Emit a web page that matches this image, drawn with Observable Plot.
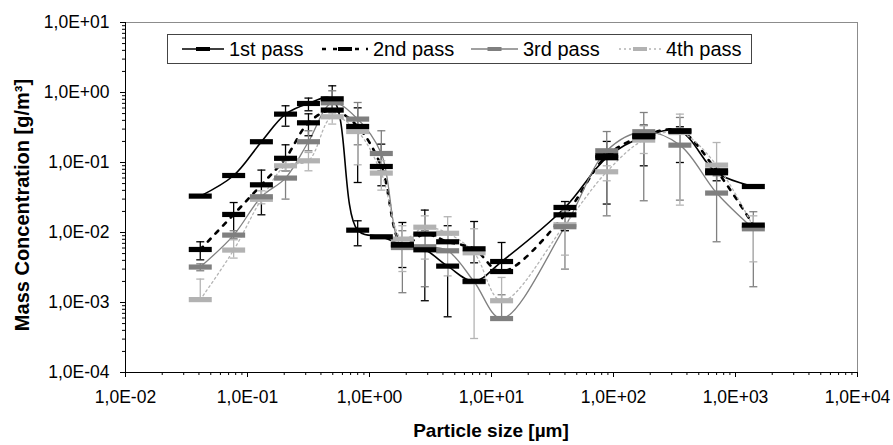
<!DOCTYPE html>
<html><head><meta charset="utf-8">
<script src="https://cdn.jsdelivr.net/npm/d3@7"></script>
<script src="https://cdn.jsdelivr.net/npm/@observablehq/plot@0.6"></script>
<style>
body{margin:0;background:#fff;font-family:"Liberation Sans",Arial,sans-serif;}
#wrap{position:relative;width:893px;height:445px;overflow:hidden;}
.ttl{position:absolute;font-weight:bold;font-size:19px;color:#000;white-space:nowrap;}
</style></head><body><div id="wrap"></div>
<script>
// ---- data ----
const sizes = [0.041, 0.077, 0.13, 0.205, 0.316, 0.495, 0.80, 1.25, 1.86, 2.84, 4.37, 7.2, 12.1, 40, 88, 177, 350, 700, 1400];

const pass1   = [0.0331, 0.0652, 0.198, 0.491, 0.697, 0.813, 0.0108, 0.00868, 0.00667, 0.00566, 0.00331, 0.00201, 0.00385, 0.0228, 0.117, 0.233, 0.279, 0.0713, 0.0454];
const pass1Hi = [null, null, null, 0.646, 0.832, 1.246, 0.0147, null, null, null, null, null, 0.0072, 0.0277, null, null, null, null, null];
const pass1Lo = [null, null, null, 0.33, 0.548, 0.585, 0.00646, null, null, null, 0.000625, null, 0.00284, 0.0173, null, null, null, null, null];

const pass2   = [0.00572, 0.0181, 0.048, 0.1148, 0.369, 0.561, 0.327, 0.0877, 0.00667, 0.00949, 0.00737, 0.00585, 0.00277, 0.0179, 0.1247, 0.241, 0.284, 0.0761, 0.01276];
const pass2Hi = [0.00737, 0.0268, 0.0779, 0.179, 0.496, null, 0.604, 0.183, 0.0139, 0.0209, 0.0125, 0.01436, null, 0.0241, 0.2, 0.342, 0.324, 0.0897, null];
const pass2Lo = [0.00407, 0.00927, 0.0179, 0.0761, 0.241, null, 0.0518, 0.0465, 0.00316, 0.00106, null, 0.00369, null, 0.0106, 0.0255, 0.0897, 0.1, 0.0548, null];

const pass3   = [0.00321, 0.00918, 0.0324, 0.0599, 0.198, 0.713, 0.417, 0.1345, 0.0061, 0.00625, 0.00548, 0.00198, 0.00059, 0.0121, 0.147, 0.275, 0.177, 0.0366, 0.0113];
const pass3Hi = [0.00357, 0.0106, null, null, 0.284, 1.058, 0.72, 0.284, 0.0106, 0.0106, null, null, 0.00129, 0.0204, 0.277, 0.518, 0.44, 0.0646, 0.0198];
const pass3Lo = [0.00284, 0.00813, null, 0.030, 0.147, 0.513, 0.179, 0.0761, 0.00138, 0.00168, null, null, null, 0.003, 0.0173, 0.0284, 0.029, 0.00737, 0.00168];

const pass4   = [0.0011, 0.00561, 0.0298, 0.0897, 0.1057, 0.45, 0.277, 0.0706, 0.00805, 0.0119, 0.00975, 0.00513, 0.00106, 0.0129, 0.0737, 0.209, 0.268, 0.0918, 0.0121];
const pass4Hi = [0.00216, 0.00787, 0.0394, 0.106, 0.139, 0.548, 0.334, 0.106, 0.0125, 0.0173, 0.0168, 0.0113, 0.00228, 0.0173, 0.0897, 0.334, 0.491, 0.193, 0.0173];
const pass4Lo = [null, 0.00431, 0.0257, 0.0761, 0.0761, 0.354, 0.0927, 0.0403, 0.00277, 0.00417, 0.0024, 0.000306, null, 0.00475, 0.0548, 0.1345, 0.0246, null, 0.00381];

const seriesNames = ["1st pass", "2nd pass", "3rd pass", "4th pass"];
const xTicks = [0.01, 0.1, 1, 10, 100, 1000, 10000];
const xTickLabels = ["1,0E-02", "1,0E-01", "1,0E+00", "1,0E+01", "1,0E+02", "1,0E+03", "1,0E+04"];
const yTicks = [0.0001, 0.001, 0.01, 0.1, 1, 10];
const yTickLabels = ["1,0E-04", "1,0E-03", "1,0E-02", "1,0E-01", "1,0E+00", "1,0E+01"];
const xLabel = "Particle size [µm]";
const yLabel = "Mass Concentration [g/m³]";

// ---- styles ----
const styles = [
  {color: "#000000", bar: "#000000", width: 1.6, dash: null},
  {color: "#000000", bar: "#000000", width: 2.6, dash: "4,7"},
  {color: "#808080", bar: "#7f7f7f", width: 1.3, dash: null},
  {color: "#b4b4b4", bar: "#b2b2b2", width: 1.3, dash: "2,3"}
];
const values = [pass1, pass2, pass3, pass4];
const his = [pass1Hi, pass2Hi, pass3Hi, pass4Hi];
const los = [pass1Lo, pass2Lo, pass3Lo, pass4Lo];

const rows = values.map(v => sizes.map((x, i) => ({x, y: v[i]})));
const errs = values.map((v, s) => {
  const out = [];
  sizes.forEach((x, i) => {
    if (his[s][i] != null) out.push({x, y: v[i], end: his[s][i]});
    if (los[s][i] != null) out.push({x, y: v[i], end: los[s][i]});
  });
  return out;
});

const minor = (lo, hi) => { const r = []; for (let e = lo; e < hi; e++) for (let k = 2; k <= 9; k++) r.push(k * Math.pow(10, e)); return r; };
const xMinor = minor(-2, 4);
const yMinor = minor(-4, 1);

const barSymbol = {draw(ctx) { ctx.rect(-11.5, -2.6, 23, 5.2); }};
const capSymbol = {draw(ctx) { ctx.moveTo(-4, 0); ctx.lineTo(4, 0); }};

const marks = [
  Plot.ruleY([10], {stroke: "#8c8c8c"}),
  Plot.ruleX([10000], {stroke: "#8c8c8c"}),
  Plot.axisX(xMinor, {tickSize: 3, tickFormat: () => "", label: null}),
  Plot.axisY(yMinor, {tickSize: 3, tickFormat: () => "", label: null}),
  Plot.axisX(xTicks, {tickSize: 5, tickPadding: 13, tickFormat: d => xTickLabels[xTicks.indexOf(d)], label: null, fontSize: 17.5}),
  Plot.axisY(yTicks, {tickSize: 5, tickPadding: 11, tickFormat: d => yTickLabels[yTicks.indexOf(d)], label: null, fontSize: 17.5}),
  Plot.ruleX([0.01], {stroke: "#000"}),
  Plot.ruleY([0.0001], {stroke: "#000"})
];
rows.forEach((r, s) => {
  marks.push(Plot.line(r, {x: "x", y: "y", curve: "catmull-rom", stroke: styles[s].color, strokeWidth: styles[s].width, strokeDasharray: styles[s].dash}));
});
errs.forEach((e, s) => {
  marks.push(Plot.ruleX(e, {x: "x", y1: "y", y2: "end", stroke: styles[s].color, strokeWidth: 1.3}));
  marks.push(Plot.dot(e, {x: "x", y: "end", symbol: capSymbol, stroke: styles[s].color, fill: "none", strokeWidth: 1.3, r: 4}));
});
[3, 2, 1, 0].forEach(s => {
  marks.push(Plot.dot(rows[s], {x: "x", y: "y", symbol: barSymbol, fill: styles[s].bar, stroke: "none", r: 5}));
});

const chart = Plot.plot({
  width: 893, height: 445,
  marginLeft: 125, marginRight: 36, marginTop: 22, marginBottom: 73,
  x: {type: "log", domain: [0.01, 10000]},
  y: {type: "log", domain: [0.0001, 10]},
  style: {fontFamily: "'Liberation Sans', Arial, sans-serif", fontSize: "17px", color: "#000", background: "#fff"},
  marks
});
const wrap = document.getElementById("wrap");
wrap.appendChild(chart);

// axis titles
const yt = document.createElement("div");
yt.className = "ttl"; yt.textContent = yLabel;
yt.style.fontSize = "20px";
yt.style.left = "22px"; yt.style.top = "205px";
yt.style.transform = "translate(-50%,-50%) rotate(-90deg)";
wrap.appendChild(yt);
const xt = document.createElement("div");
xt.className = "ttl"; xt.textContent = xLabel;
xt.style.left = "491px"; xt.style.top = "431px";
xt.style.transform = "translate(-50%,-50%)";
wrap.appendChild(xt);

// legend
const lg = d3.select(wrap).append("svg")
  .attr("width", 586).attr("height", 31)
  .style("position", "absolute").style("left", "167px").style("top", "34px");
lg.append("rect").attr("x", 0.5).attr("y", 0.5).attr("width", 584).attr("height", 29)
  .attr("fill", "#fff").attr("stroke", "#444");
const sampleX = [[15, 57], [155, 201], [304, 351], [452, 494]];
seriesNames.forEach((name, s) => {
  const [a, b] = sampleX[s];
  lg.append("line").attr("x1", a).attr("x2", b).attr("y1", 15).attr("y2", 15)
    .attr("stroke", styles[s].color).attr("stroke-width", styles[s].width)
    .attr("stroke-dasharray", styles[s].dash);
  lg.append("rect").attr("x", (a + b) / 2 - 7).attr("y", 13).attr("width", 14).attr("height", 4)
    .attr("fill", styles[s].bar);
  lg.append("text").attr("x", b + 5).attr("y", 15).attr("dy", "0.35em")
    .attr("font-size", 20).attr("font-family", "'Liberation Sans', Arial, sans-serif")
    .text(name);
});
</script></body></html>
